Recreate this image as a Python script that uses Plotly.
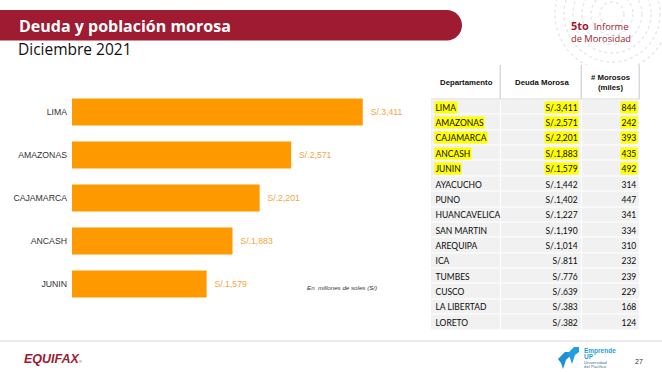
import plotly.graph_objects as go

# ---------------- data ----------------
departments = ["LIMA", "AMAZONAS", "CAJAMARCA", "ANCASH", "JUNIN", "AYACUCHO", "PUNO",
               "HUANCAVELICA", "SAN MARTIN", "AREQUIPA", "ICA", "TUMBES", "CUSCO",
               "LA LIBERTAD", "LORETO"]
deuda = [3411, 2571, 2201, 1883, 1579, 1442, 1402, 1227, 1190, 1014, 811, 776, 639, 383, 382]
morosos = [844, 242, 393, 435, 492, 314, 447, 341, 334, 310, 232, 239, 229, 168, 124]
n_top = 5
col_headers = ["Departamento", "Deuda Morosa", "# Morosos<br>(miles)"]
title = "Deuda y población morosa"
subtitle = "Diciembre 2021"
unit_note = "En  millones de soles (S/)"
page_number = "27"

# ---------------- style ----------------
W, H = 662, 372
RED = "#9E1B32"
ORANGE = "#FF9900"
LABEL_ORANGE = "#F4A640"
col_w = [70, 81, 58]


def fx(p):
    return p / W


def fy(p):
    return 1 - p / H


def money(v):
    return "S/." + f"{v:,}"


top_dept = departments[:n_top]
top_deuda = deuda[:n_top]
edges = [0]
for w in col_w:
    edges.append(edges[-1] + w)

fig = go.Figure()

# ---- bar chart ----
fig.add_trace(go.Bar(
    x=top_deuda, y=top_dept, orientation="h",
    marker=dict(color=ORANGE, line=dict(width=0)),
    text=["\u00a0\u00a0" + money(v) for v in top_deuda],
    textposition="outside", cliponaxis=False, constraintext="none",
    textfont=dict(family="Liberation Sans, Arial", size=8.7, color=LABEL_ORANGE),
    hoverinfo="skip", xaxis="x", yaxis="y"))

# ---- table body (cells) ----
fig.add_trace(go.Heatmap(
    x=edges, y=departments, z=[[1] * len(col_w) for _ in departments],
    colorscale=[[0, "#F1F1F1"], [1, "#F1F1F1"]], showscale=False,
    xgap=1.2, ygap=1.2, hoverinfo="skip", xaxis="x2", yaxis="y2"))

# ---- table header ----
fig.add_trace(go.Heatmap(
    x=edges, y=["hdr"], z=[[1] * len(col_w)],
    colorscale=[[0, "#FFFFFF"], [1, "#FFFFFF"]], showscale=False,
    xgap=1.5, ygap=1.5, hoverinfo="skip", xaxis="x2", yaxis="y3"))

annotations = []
table_font = dict(family="Lato, Liberation Sans", size=8.5, color="#0A0A0A")
for i, d in enumerate(departments):
    bg = "#FFFF00" if i < n_top else "rgba(0,0,0,0)"
    annotations.append(dict(x=edges[0] + 3, y=d, xref="x2", yref="y2", text=d,
                            xanchor="left", yanchor="middle", showarrow=False,
                            font=table_font, bgcolor=bg, borderpad=0.5))
    annotations.append(dict(x=edges[2] - 3, y=d, xref="x2", yref="y2", text=money(deuda[i]),
                            xanchor="right", yanchor="middle", showarrow=False,
                            font=table_font, bgcolor=bg, borderpad=0.5))
    annotations.append(dict(x=edges[3] - 2.5, y=d, xref="x2", yref="y2", text=str(morosos[i]),
                            xanchor="right", yanchor="middle", showarrow=False,
                            font=table_font, bgcolor=bg, borderpad=0.5))
for j, h in enumerate(col_headers):
    annotations.append(dict(x=(edges[j] + edges[j + 1]) / 2, y="hdr", xref="x2", yref="y3",
                            text="<b>" + h + "</b>", showarrow=False,
                            xanchor="center", yanchor="middle",
                            font=dict(family="Liberation Sans, Arial", size=7.8, color="#111111")))

# ---- titles & slide texts ----
annotations += [
    dict(x=fx(17), y=fy(26), xref="paper", yref="paper", text="<b>" + title + "</b>",
         xanchor="left", yanchor="middle", showarrow=False,
         font=dict(family="Open Sans", size=16, color="white")),
    dict(x=fx(16), y=fy(48.5), xref="paper", yref="paper", text=subtitle,
         xanchor="left", yanchor="middle", showarrow=False,
         font=dict(family="Open Sans", size=15.5, color="#111111")),
    dict(x=fx(569), y=fy(25.5), xref="paper", yref="paper",
         text="<b><span style='font-size:11px'>5to</span></b>  Informe",
         xanchor="left", yanchor="middle", showarrow=False,
         font=dict(family="Open Sans", size=9.3, color=RED)),
    dict(x=fx(569), y=fy(38), xref="paper", yref="paper", text="de Morosidad",
         xanchor="left", yanchor="middle", showarrow=False,
         font=dict(family="Open Sans", size=9.3, color=RED)),
    dict(x=fx(305), y=fy(287), xref="paper", yref="paper", text="<i>" + unit_note + "</i>",
         xanchor="left", yanchor="middle", showarrow=False,
         font=dict(family="Liberation Sans, Arial", size=6.2, color="#333333")),
    dict(x=fx(22), y=fy(358.5), xref="paper", yref="paper",
         text="<b><i>EQUIFAX</i></b><span style='font-size:4px'>®</span>",
         xanchor="left", yanchor="middle", showarrow=False,
         font=dict(family="Liberation Sans, Arial", size=12.5, color=RED)),
    dict(x=fx(633), y=fy(361), xref="paper", yref="paper", text=page_number,
         xanchor="left", yanchor="middle", showarrow=False,
         font=dict(family="Liberation Sans, Arial", size=7, color="#333333")),
    dict(x=fx(582), y=fy(350.5), xref="paper", yref="paper", text="<b>Emprende</b>",
         xanchor="left", yanchor="middle", showarrow=False,
         font=dict(family="Liberation Sans, Arial", size=6.5, color="#1E9FE3")),
    dict(x=fx(582), y=fy(356.5), xref="paper", yref="paper", text="<b>UP</b>",
         xanchor="left", yanchor="middle", showarrow=False,
         font=dict(family="Liberation Sans, Arial", size=6.5, color="#1E9FE3")),
    dict(x=fx(582), y=fy(362), xref="paper", yref="paper", text="Universidad",
         xanchor="left", yanchor="middle", showarrow=False,
         font=dict(family="Liberation Sans, Arial", size=4.3, color="#4F6E95")),
    dict(x=fx(582), y=fy(366.5), xref="paper", yref="paper", text="del Pacífico",
         xanchor="left", yanchor="middle", showarrow=False,
         font=dict(family="Liberation Sans, Arial", size=4.3, color="#4F6E95")),
]

# ---- shapes ----
def ppath(points, close=True):
    s = "M " + " L ".join(f"{fx(a):.5f},{fy(b):.5f}" for a, b in points)
    return s + (" Z" if close else "")


shapes = []
# decorative dotted rings (top right)
for r in [12, 21, 30, 39, 48, 57]:
    shapes.append(dict(type="circle", xref="paper", yref="paper",
                       x0=fx(612 - r), x1=fx(612 + r), y0=fy(14 + r), y1=fy(14 - r),
                       line=dict(color="#E6E6E6", width=1.3, dash="dot"), layer="below"))
# red header band with rounded right end
x_end, y0b, y1b, rad = 462, 10, 40.5, 15.25
band = (f"M {fx(0)},{fy(y0b)} L {fx(x_end - rad)},{fy(y0b)} "
        f"C {fx(x_end - rad + 8.4)},{fy(y0b)} {fx(x_end)},{fy(y0b + 6.8)} {fx(x_end)},{fy(y0b + rad)} "
        f"C {fx(x_end)},{fy(y1b - 6.8)} {fx(x_end - rad + 8.4)},{fy(y1b)} {fx(x_end - rad)},{fy(y1b)} "
        f"L {fx(0)},{fy(y1b)} Z")
shapes.append(dict(type="path", path=band, xref="paper", yref="paper",
                   fillcolor=RED, line=dict(width=0), layer="below"))
# header border (shows through heatmap gaps)
shapes.append(dict(type="rect", xref="x2 domain", yref="y3 domain", x0=0, x1=1, y0=0, y1=1,
                   fillcolor="#D9D9D9", line=dict(width=0), layer="below"))
# footer separator
shapes.append(dict(type="line", xref="paper", yref="paper", x0=0, x1=1, y0=fy(341), y1=fy(341),
                   line=dict(color="#E6E6E6", width=1.5)))
# Emprende UP icon (two blue arrows)
shapes.append(dict(type="path", xref="paper", yref="paper",
                   path=ppath([(558, 359), (565, 352), (569, 352), (569, 357), (566, 360), (563, 369), (561, 363)]),
                   fillcolor="#1E8FD6", line=dict(width=0)))
shapes.append(dict(type="path", xref="paper", yref="paper",
                   path=ppath([(567, 354), (574, 347), (579, 347), (579, 352), (575, 355), (572, 364), (570, 358)]),
                   fillcolor="#1E9FE3", line=dict(width=0)))

fig.update_layout(
    width=W, height=H, margin=dict(l=0, r=0, t=0, b=0),
    paper_bgcolor="white", plot_bgcolor="rgba(0,0,0,0)", showlegend=False,
    bargap=0.37,
    xaxis=dict(domain=[fx(72), fx(413)], range=[0, 4000], visible=False, fixedrange=True,
               anchor="y"),
    yaxis=dict(domain=[fy(305.5), fy(90.5)], type="category", categoryorder="array",
               categoryarray=top_dept, range=[len(top_dept) - 0.5, -0.5],
               showgrid=False, showline=False, zeroline=False, ticks="",
               ticklabelstandoff=4, anchor="x", fixedrange=True,
               tickfont=dict(family="Liberation Sans, Arial", size=8.7, color="#333333")),
    xaxis2=dict(domain=[fx(431), fx(640)], range=[edges[0], edges[-1]], visible=False,
                anchor="y2", fixedrange=True),
    yaxis2=dict(domain=[fy(330), fy(99.5)], type="category", categoryorder="array",
                categoryarray=departments, range=[len(departments) - 0.5, -0.5],
                visible=False, anchor="x2", fixedrange=True),
    yaxis3=dict(domain=[fy(99.5), fy(65)], type="category", range=[-0.5, 0.5],
                visible=False, anchor="x2", fixedrange=True),
    annotations=annotations, shapes=shapes,
)

fig.write_html(
    "out.html", config={"displayModeBar": False},
    post_script="document.body.style.margin='0';document.body.style.overflow='hidden';",
)
